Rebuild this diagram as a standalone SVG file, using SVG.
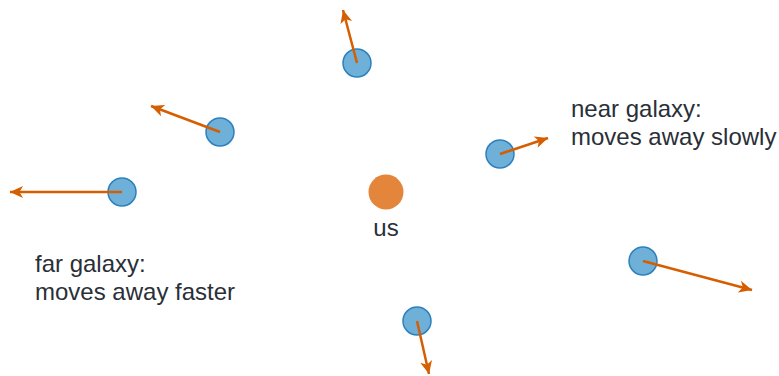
<svg xmlns="http://www.w3.org/2000/svg" width="779" height="376" viewBox="0 0 779 376">
<defs>
<style>
.gal{fill:#6fb0d8;stroke:#2c80bd;stroke-width:1.5}
.us{fill:#e3853a}
.arr{stroke:#d55e00;stroke-width:2.5;fill:none;marker-end:url(#ah)}
text{font-family:"Liberation Sans","Open Sans",sans-serif;font-size:24px;fill:#2a2f38}
</style>
<marker id="ah" markerUnits="userSpaceOnUse" markerWidth="16" markerHeight="14" viewBox="0 0 16 14" refX="13" refY="7" orient="auto">
<path d="M0,1 L13,7 L0,13 L3.5,7 Z" fill="#d55e00"/>
</marker>
</defs>
<g id="g1"><circle class="gal" cx="357" cy="63" r="14"/></g>
<g id="g2"><circle class="gal" cx="220" cy="132" r="14"/></g>
<g id="g3"><circle class="gal" cx="122" cy="192" r="14"/></g>
<g id="g4"><circle class="gal" cx="500" cy="154" r="14"/></g>
<g id="g5"><circle class="gal" cx="643" cy="261" r="14"/></g>
<g id="g6"><circle class="gal" cx="417" cy="321" r="14"/></g>
<g id="us"><circle class="us" cx="386" cy="192" r="17.5"/><text x="386" y="236" text-anchor="middle">us</text></g>
<g id="near-label"><text x="571" y="117">near galaxy:</text><text x="571" y="145">moves away slowly</text></g>
<g id="far-label"><text x="35" y="272">far galaxy:</text><text x="35" y="300">moves away faster</text></g>
<g id="connectors">
<line class="arr" x1="357" y1="63" x2="343" y2="10"/>
<line class="arr" x1="220" y1="132" x2="151" y2="106"/>
<line class="arr" x1="122" y1="192" x2="10" y2="192"/>
<line class="arr" x1="500" y1="154" x2="548" y2="138"/>
<line class="arr" x1="643" y1="261" x2="752" y2="290"/>
<line class="arr" x1="417" y1="321" x2="429" y2="374"/>
</g>
</svg>
